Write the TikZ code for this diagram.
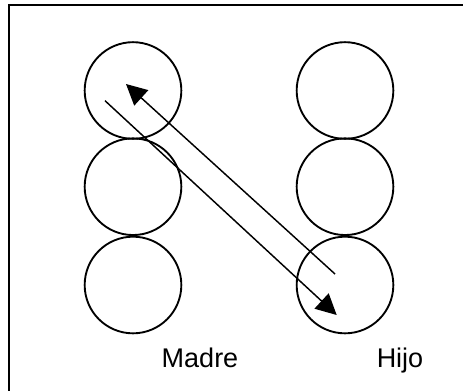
\documentclass[tikz,border=0pt]{standalone}
\usepackage{fontspec}
\setmainfont{Liberation Sans}
\usetikzlibrary{arrows.meta}
\begin{document}
\begin{tikzpicture}[x=0.75pt, y=-0.75pt,
    ball/.style={draw, circle, line width=1.4pt, minimum size=72.5pt, inner sep=0pt},
    arr/.style={line width=1.1pt, -{Triangle[length=15.5pt, width=15.5pt]}},
    lbl/.style={anchor=base, font=\fontsize{20.25}{24}\selectfont}]
    \useasboundingbox (0,0) rectangle (463,390);
    \clip (0,0) rectangle (463,390);
    \draw[line width=1.5pt] (9,5) rectangle (480,400);
    \node[ball] (m1) at (133,90.5) {};
    \node[ball] (m2) at (133,186.7) {};
    \node[ball] (m3) at (133,285) {};
    \node[ball] (h1) at (345,90.5) {};
    \node[ball] (h2) at (345,186.7) {};
    \node[ball] (h3) at (345,285) {};
    \coordinate (ida) at (105,100.7);
    \coordinate (idb) at (336.7,315);
    \coordinate (vuelta) at (335,274);
    \coordinate (vueltb) at (126,84);
    \draw[arr] (ida) -- (idb);
    \draw[arr] (vuelta) -- (vueltb);
    \node[lbl] (madre) at (200,367.5) {Madre};
    \node[lbl] (hijo) at (400,367.5) {Hijo};
\end{tikzpicture}
\end{document}
